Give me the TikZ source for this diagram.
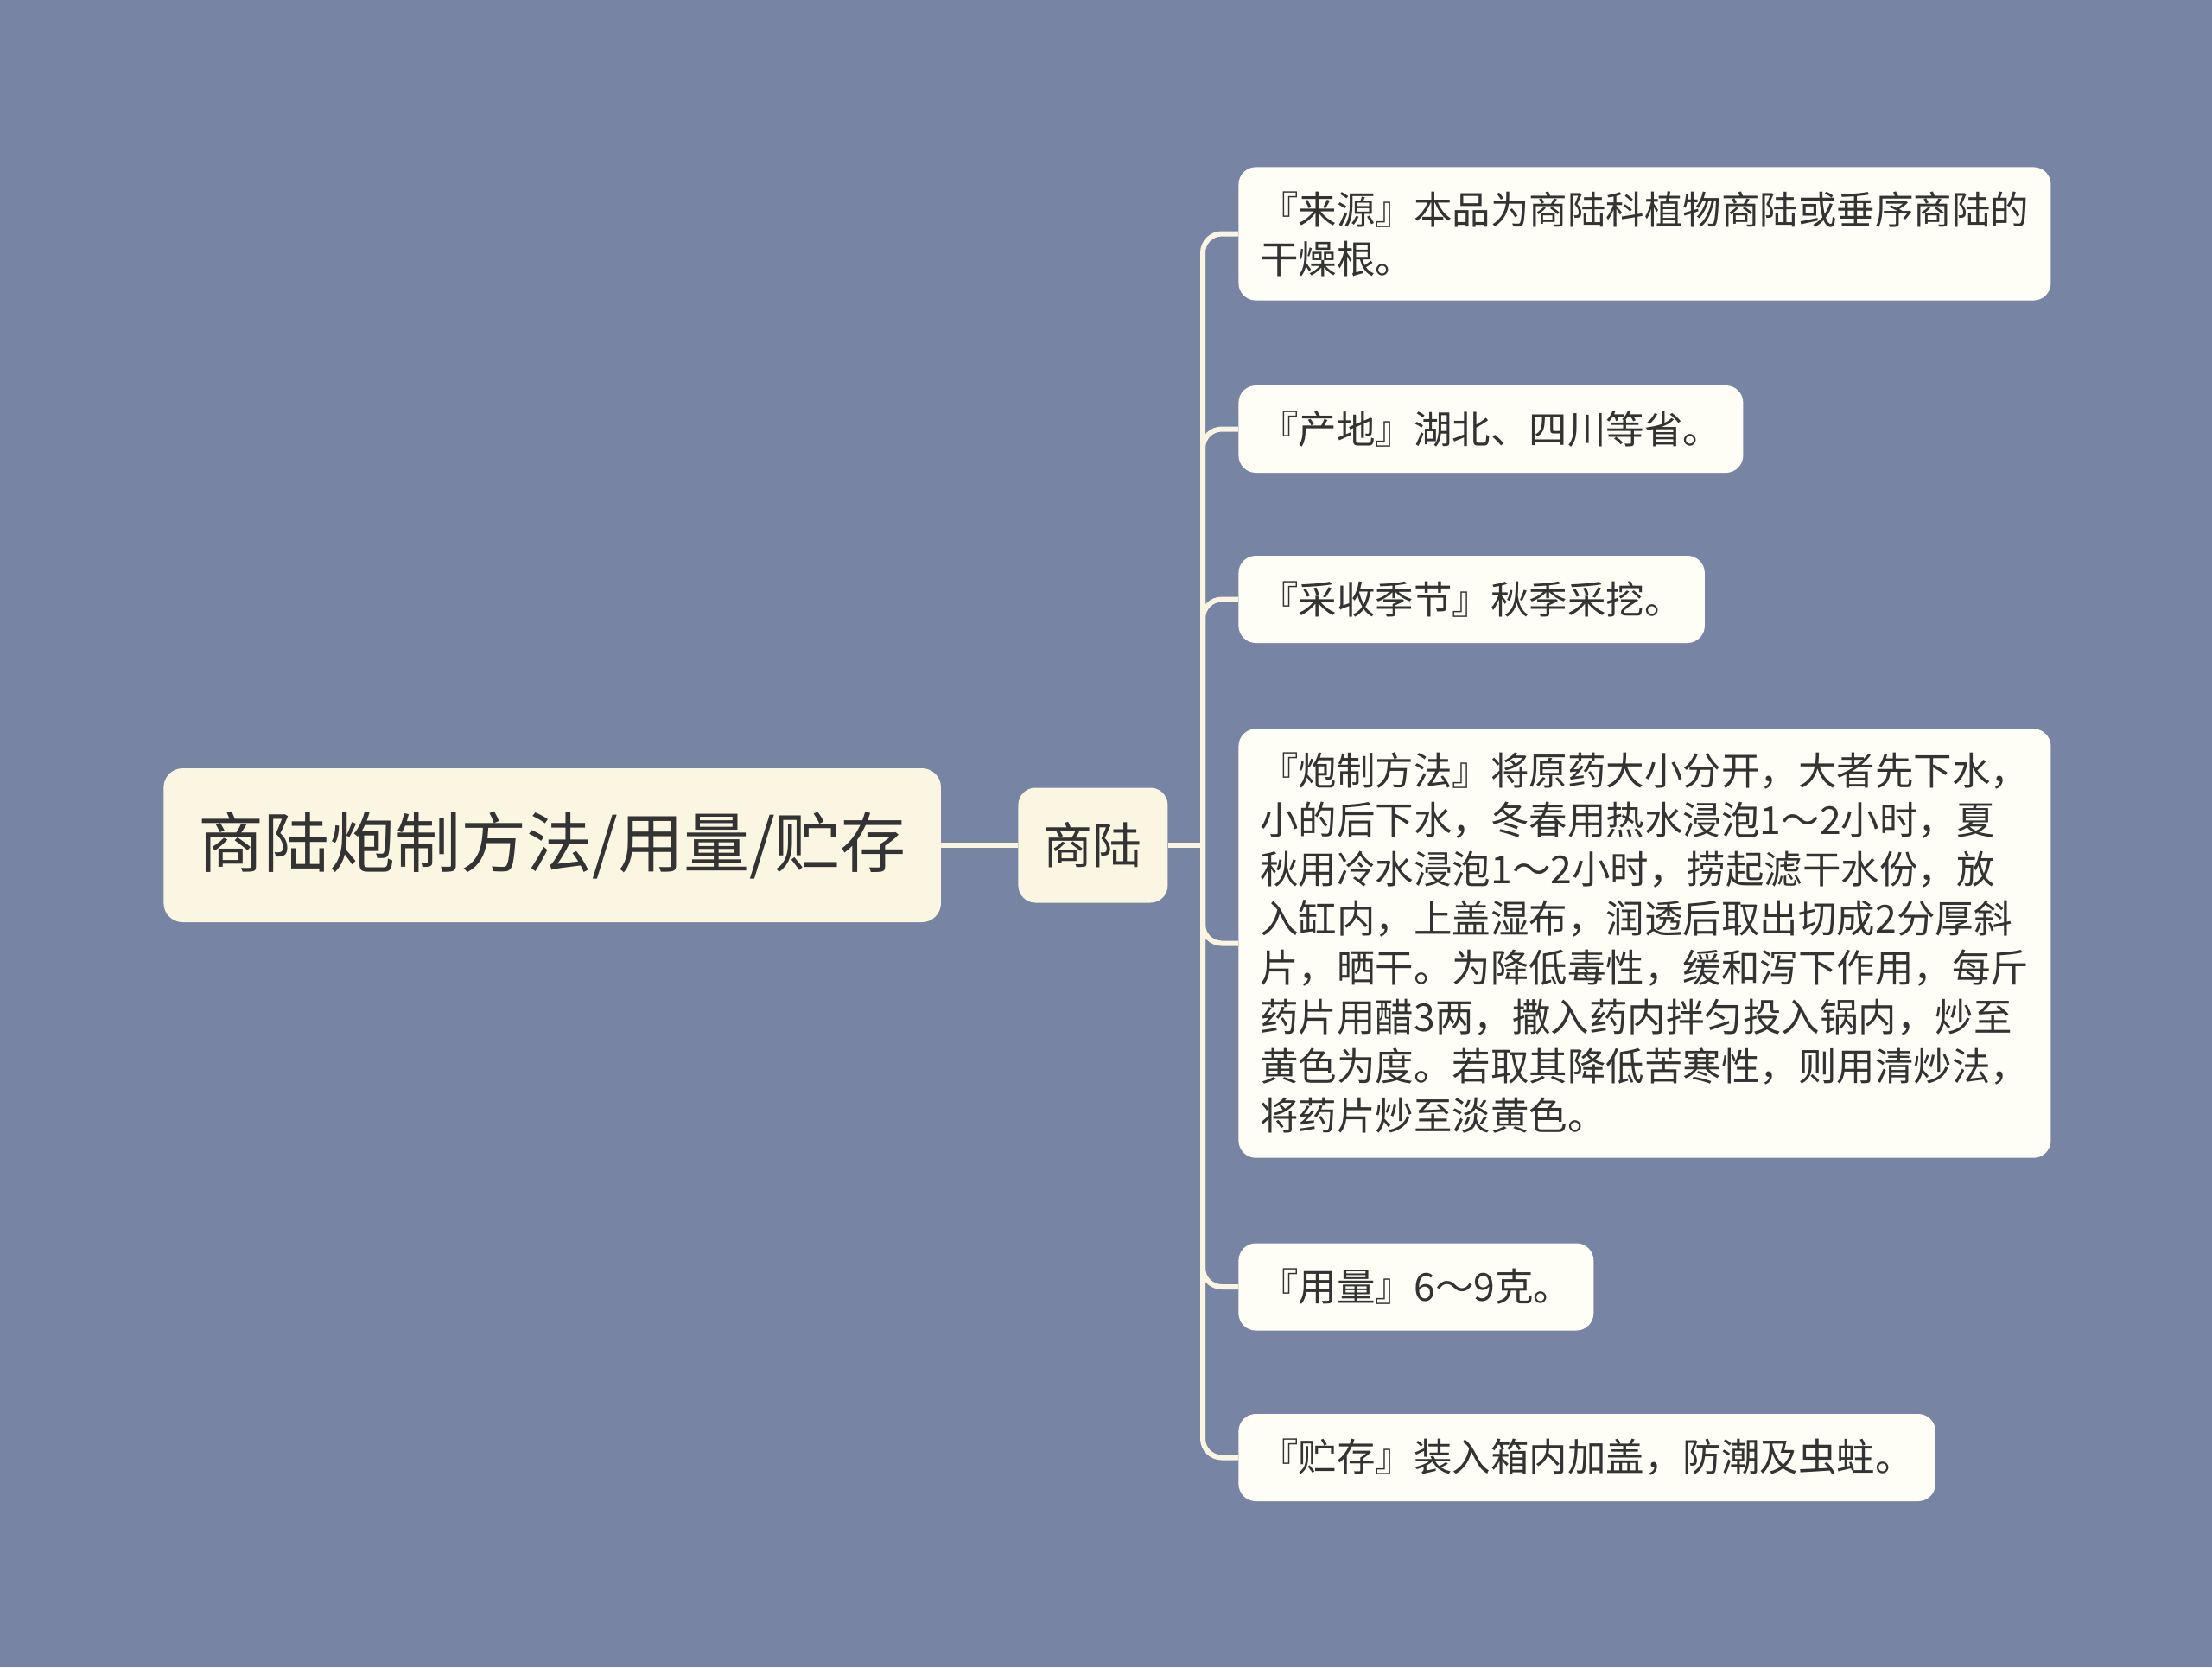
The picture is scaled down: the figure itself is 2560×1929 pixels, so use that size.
\documentclass[tikz,border=0pt]{standalone}
\usepackage{fontspec}
\setmainfont{Noto Sans CJK SC}
\definecolor{bg}{HTML}{7884A4}
\definecolor{cream}{HTML}{FAF6E2}
\definecolor{leaf}{HTML}{FEFEF7}
\definecolor{link}{HTML}{F9F5E1}
\definecolor{ink}{HTML}{333333}
\tikzset{
  rootbox/.style={anchor=west, fill=cream, text=ink, rounded corners=11pt,
    inner xsep=20pt, minimum height=89pt, font=\fontsize{38pt}{44pt}\selectfont},
  subbox/.style={anchor=west, fill=cream, text=ink, rounded corners=10pt,
    inner xsep=14.75pt, minimum height=66.5pt, font=\fontsize{28.5pt}{32pt}\selectfont},
  leafbox/.style={anchor=west, fill=leaf, text=ink, rounded corners=10pt, align=left,
    inner xsep=12.5pt, inner ysep=14pt, minimum height=50.5pt,
    font=\fontsize{22.25pt}{28.5pt}\selectfont},
  linkline/.style={draw=link, line width=3pt}
}
\begin{document}
\begin{tikzpicture}[x=0.5pt,y=-0.5pt]
      \useasboundingbox (0,0) rectangle (2560,1929);
      \fill[bg] (0,0) rectangle (2560,1929);
      \draw
        (189,978) node[rootbox] (root){商陆炮制方法/用量/贮存}
        (1178,978) node[subbox] (shanglu){商陆}
        (1433,270.5) node[leafbox] (1){『来源』本品为商陆科植物商陆或垂序商陆的\\干燥根。}
        (1433,496.5) node[leafbox] (2){『产地』湖北、四川等省。}
        (1433,693.5) node[leafbox] (3){『采收季节』秋季采挖。}
        (1433,1091.5) node[leafbox] (4){『炮制方法』将原药大小分开，大者先下水，\\小的后下水，冬春用热水浸泡1～2小时，夏\\秋用冷水浸泡1～2小时，捞起滤干水份，放\\入缸内，上盖湿布，润透后取出切成2分厚斜\\片，晒干。为降低毒性，缓和泻下作用，每斤\\药片用醋3两，撒入药内拌匀投入锅内，炒至\\黄色为度。若取其降低苦寒性，则用清炒法，\\将药片炒至淡黄色。}
        (1433,1489) node[leafbox] (5){『用量』6～9克。}
        (1433,1686.5) node[leafbox] (6){『贮存』装入箱内加盖，防潮及虫蛀。};
      \coordinate (t) at (1392,978);
      \begin{scope}[linkline]
        \draw (root) -- (shanglu);
        \draw (shanglu) -- (t);
        \foreach \i in {1,...,6}
          \draw[rounded corners=11pt] (t) |- (\i.west);
      \end{scope}
    \end{tikzpicture}
\end{document}
